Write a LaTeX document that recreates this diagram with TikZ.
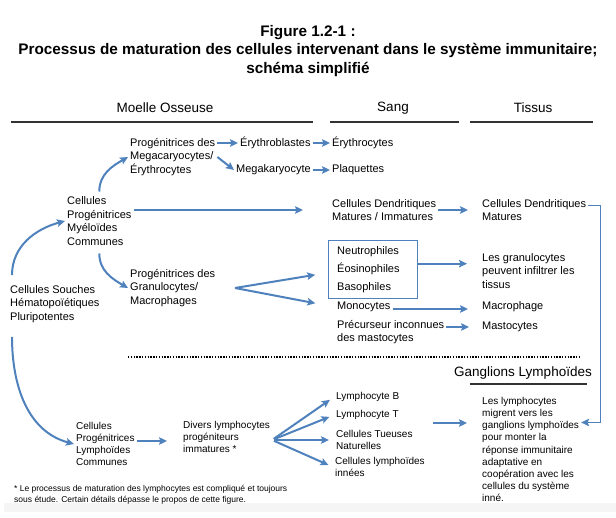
\documentclass[tikz,border=0pt]{standalone}
\usepackage{fontspec}
\setmainfont{Liberation Sans}
\usepackage{xcolor}
\usepackage{tikz}
\usetikzlibrary{calc,positioning,arrows.meta}
\definecolor{flow}{HTML}{4F81BD}
\begin{document}
\begin{tikzpicture}[x=1pt, y=1pt, >={Stealth[length=8pt,width=7.5pt,inset=1.5pt]},
  txt/.style={anchor=west, align=left, inner sep=2pt,
              font=\fontsize{11}{13.5}\selectfont},
  ltxt/.style={anchor=west, align=left, inner sep=2pt,
               font=\fontsize{10}{12.2}\selectfont},
  head/.style={inner sep=1pt, font=\fontsize{13.5}{16}\selectfont},
  rule/.style={line width=1.2pt, black!80},
  arr/.style={->, flow, line width=2pt},
  grbox/.style={draw=flow, line width=1.4pt, align=left, anchor=north west,
                text width=72pt, inner xsep=8.5pt, minimum height=58pt,
                font=\fontsize{11}{18}\selectfont}]
\useasboundingbox (0,0) rectangle (616,-518);
\fill[black!4] (4,-503) rectangle (616,-512);

% titre
\node[align=center, font=\bfseries\fontsize{15.3}{18.5}\selectfont] (title) at (308,-51)
  {Figure 1.2-1 :\\Processus de maturation des cellules intervenant dans le système immunitaire;\\schéma simplifié};

% en-tetes
\node[head] (hmo)   at (165,-108) {Moelle Osseuse};
\node[head] (hsang) at (393,-108) {Sang};
\node[head] (htis)  at (533,-108) {Tissus};
\draw[rule] (11,-122) -- (313,-122);
\draw[rule] (330,-122) -- (459,-122);
\draw[rule] (470,-122) -- (593,-122);

% lignee myeloide
\node[txt] (hsc)    at (8,-304)   {Cellules Souches\\Hématopoïétiques\\Pluripotentes};
\node[txt] (cmp)    at (65,-221)  {Cellules\\Progénitrices\\Myéloïdes\\Communes};
\node[txt] (pme)    at (128,-157) {Progénitrices des\\Megacaryocytes/\\Érythrocytes};
\node[txt] (eryb)   at (238,-143) {Érythroblastes};
\node[txt] (mega)   at (234,-170) {Megakaryocyte};
\node[txt] (eryc)   at (330,-143) {Érythrocytes};
\node[txt] (plaq)   at (330,-170) {Plaquettes};
\node[txt] (cdsang) at (330,-210) {Cellules Dendritiques\\Matures / Immatures};
\node[txt] (cdtis)  at (480,-210) {Cellules Dendritiques\\Matures};
\node[txt] (pgm)    at (128,-288) {Progénitrices des\\Granulocytes/\\Macrophages};
\node[grbox] (gran) at (328,-240) {Neutrophiles\\Éosinophiles\\Basophiles};
\node[txt] (gtext)  at (480,-271) {Les granulocytes\\peuvent infiltrer les\\tissus};
\node[txt] (mono)   at (335,-307) {Monocytes};
\node[txt] (macro)  at (480,-307) {Macrophage};
\node[txt] (pmast)  at (335,-332) {Précurseur inconnues\\des mastocytes};
\node[txt] (masto)  at (480,-327) {Mastocytes};
\coordinate (gfork) at (235,-288);

\draw[arr] ([xshift=4pt,yshift=8pt]hsc.north west) to[out=90,in=195] (cmp.west);
\draw[arr] ([yshift=3pt]cmp.north) to[out=90,in=210] (pme.west);
\draw[arr] ([yshift=-6pt]cmp.south) to[out=-90,in=150] (pgm.west);
\draw[arr, shorten >=27pt] (cdsang.west -| cmp.east) -- (cdsang.west);
\draw[arr] (pme.east |- eryb.west) -- (eryb.west);
\draw[arr] (pme.east) -- (mega.west);
\draw[arr] (eryb) -- (eryc);
\draw[arr] (mega) -- (plaq);
\draw[arr, shorten >=12pt] (cdsang) -- (cdtis);
\draw[arr, shorten >=13pt] (gfork) -- ([yshift=-3pt]gran.west);
\draw[arr, shorten >=20pt] (gfork) -- (mono.west);
\draw[arr, shorten >=13pt] ([yshift=6pt]gran.east) -- ([yshift=6pt]gran.east -| gtext.west);
\draw[arr, shorten >=12pt] ([yshift=-2pt]mono.east) -- ([yshift=-2pt]macro.west);
\draw[arr, shorten >=11pt] (pmast.east |- masto.west) -- (masto.west);

% separation
\draw[line width=1.4pt, dash pattern=on 1.4pt off 1.4pt] (128,-357) -- (580,-357);

% lignee lymphoide
\node[head] (hgang) at (523,-373) {Ganglions Lymphoïdes};
\draw[rule] (470,-384) -- (587,-384);
\node[ltxt] (clp)    at (74,-444)  {Cellules\\Progénitrices\\Lymphoïdes\\Communes};
\node[ltxt] (divers) at (181,-437) {Divers lymphocytes\\progéniteurs\\immatures *};
\node[ltxt] (lb)     at (334,-397) {Lymphocyte B};
\node[ltxt] (lt)     at (334,-415) {Lymphocyte T};
\node[ltxt] (nk)     at (334,-440) {Cellules Tueuses\\Naturelles};
\node[ltxt] (ilc)    at (333,-467) {Cellules lymphoïdes\\innées};
\node[ltxt, font=\fontsize{10}{12.1}\selectfont] (lymtext) at (480,-449.5)
  {Les lymphocytes\\migrent vers les\\ganglions lymphoïdes\\pour monter la\\réponse immunitaire\\adaptative en\\coopération avec les\\cellules du système\\inné.};
\coordinate (lymout) at (433,-423);

\draw[arr] ([xshift=4pt,yshift=-12pt]hsc.south west) to[out=-90,in=165] (clp.west);
\draw[arr, shorten >=14pt] ([yshift=3pt]clp.east) -- ([yshift=3pt]clp.east -| divers.west);
\foreach \t in {lb,lt,nk,ilc}
  \draw[arr, shorten <=2pt, shorten >=5pt] ([yshift=-3pt]divers.east) -- (\t.west);
\draw[arr, shorten >=13pt] (lymout) -- (lymout -| lymtext.west);
\draw[->, flow, line width=1pt] ([yshift=4pt]cdtis.east) -- ++(12,0) |- ([yshift=27pt]lymtext.east);

% note
\node[anchor=west, align=left, inner sep=2pt, font=\fontsize{8.5}{11}\selectfont] (note) at (12,-494.5)
  {* Le processus de maturation des lymphocytes est compliqué et toujours\\sous étude. Certain détails dépasse le propos de cette figure.};
\end{tikzpicture}
\end{document}
